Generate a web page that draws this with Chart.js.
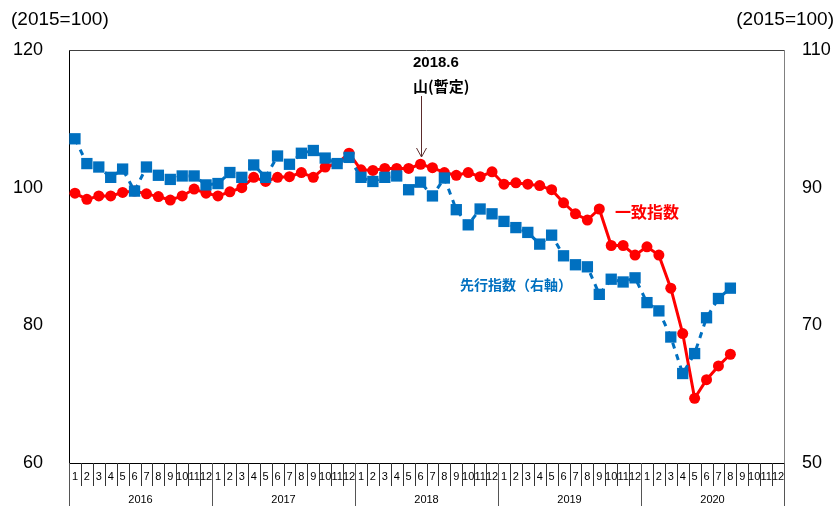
<!DOCTYPE html>
<html>
<head>
<meta charset="utf-8">
<script src="https://cdn.jsdelivr.net/npm/chart.js@4.4.1/dist/chart.umd.min.js"></script>
<style>
  html, body { margin: 0; padding: 0; background: #fff; }
</style>
</head>
<body>
<canvas id="ciChart" width="837" height="506"></canvas>
<script>
const ctx = document.getElementById('ciChart');

//Prepare data
var years = ['2016', '2017', '2018', '2019', '2020'];
var monthTicks = ['1', '2', '3', '4', '5', '6', '7', '8', '9', '10', '11', '12'];
var leftTicks = [60, 80, 100, 120];
var rightTicks = [50, 70, 90, 110];

// 一致指数 (left axis), 2016.1 - 2020.8
var coincident = [
    99.2, 98.3, 98.8, 98.8, 99.3, 99.5, 99.1, 98.7, 98.2, 98.8, 99.8, 99.2,
    98.8, 99.4, 100.0, 101.5, 100.9, 101.5, 101.6, 102.2, 101.5, 103.0, 103.5, 105.0,
    102.6, 102.5, 102.8, 102.8, 102.8, 103.4, 102.9, 102.2, 101.8, 102.2, 101.6, 102.3,
    100.5, 100.7, 100.5, 100.3, 99.7, 97.8, 96.2, 95.3, 96.9, 91.6, 91.6, 90.2,
    91.4, 90.2, 85.4, 78.8, 69.4, 72.1, 74.1, 75.8
];
// 先行指数 (right axis), 2016.1 - 2020.8
var leading = [
    97.1, 93.5, 93.0, 91.5, 92.7, 89.5, 93.0, 91.8, 91.2, 91.7, 91.7, 90.4,
    90.6, 92.2, 91.5, 93.3, 91.5, 94.6, 93.4, 95.0, 95.4, 94.3, 93.5, 94.4,
    91.5, 90.9, 91.5, 91.7, 89.7, 90.8, 88.8, 91.4, 86.8, 84.6, 86.9, 86.2,
    85.1, 84.2, 83.5, 81.8, 83.1, 80.1, 78.8, 78.5, 74.5, 76.7, 76.3, 76.9,
    73.3, 72.1, 68.3, 63.0, 65.9, 71.1, 73.9, 75.4
];

var labels = [];
years.forEach(function (y) {
    monthTicks.forEach(function (m) { labels.push(y + '.' + m); });
});

var numFont = '"Liberation Sans", Arial, sans-serif';
var jpFont = '"Noto Sans CJK JP", sans-serif';

//Month / year rows under the plot, frame top, annotations
const axisRows = {
    id: 'axisRows',
    afterDraw(chart) {
        const c = chart.ctx;
        const a = chart.chartArea;
        const x = chart.scales.x;
        const step = x.getPixelForValue(1) - x.getPixelForValue(0);
        c.save();
        c.lineWidth = 1;
        c.strokeStyle = '#404040';
        c.beginPath();
        c.moveTo(a.left, a.top + 0.5);
        c.lineTo(a.right, a.top + 0.5);
        c.stroke();

        c.font = '11px ' + numFont;
        c.fillStyle = '#000';
        c.textAlign = 'center';
        c.textBaseline = 'middle';
        labels.forEach(function (lab, i) {
            const cx = x.getPixelForValue(i);
            const b = Math.round(cx - step / 2) + 0.5;
            const yearStart = i % 12 === 0;
            c.strokeStyle = yearStart ? '#555' : '#333';
            c.beginPath();
            c.moveTo(b, a.bottom);
            c.lineTo(b, yearStart ? chart.height : a.bottom + 23);
            c.stroke();
            c.fillText(monthTicks[i % 12], cx, a.bottom + 14);
        });
        const endX = Math.round(x.getPixelForValue(labels.length - 1) + step / 2) + 0.5;
        c.strokeStyle = '#555';
        c.beginPath();
        c.moveTo(endX, a.bottom);
        c.lineTo(endX, chart.height);
        c.stroke();

        years.forEach(function (y, k) {
            const x0 = x.getPixelForValue(k * 12) - step / 2;
            const x1 = x.getPixelForValue(k * 12 + 11) + step / 2;
            c.fillText(y, (x0 + x1) / 2, a.bottom + 37);
        });

        // unit labels
        c.font = '19px ' + numFont;
        c.textAlign = 'left';
        c.fillText('(2015=100)', 11, 20);
        c.textAlign = 'right';
        c.fillText('(2015=100)', 834, 20);

        // peak annotation
        const px = Math.round(x.getPixelForValue(29)) + 0.5;
        c.textAlign = 'left';
        c.font = 'bold 15px ' + numFont;
        c.fillText('2018.6', 413, 63);
        c.font = 'bold 15px ' + jpFont;
        c.fillText('山(暫定)', 413, 86);
        c.strokeStyle = '#5B2C2C';
        c.beginPath();
        c.moveTo(px, 96);
        c.lineTo(px, 157);
        c.moveTo(px - 5, 148);
        c.lineTo(px, 157);
        c.lineTo(px + 5, 148);
        c.stroke();

        // series labels
        c.font = 'bold 16px ' + jpFont;
        c.fillStyle = '#FF0000';
        c.fillText('一致指数', 615, 212);
        c.font = 'bold 14px ' + jpFont;
        c.fillStyle = '#0070C0';
        c.fillText('先行指数（右軸）', 460, 285);
        c.restore();
    }
};

//Create chart
new Chart(ctx, {
    type: 'line',
    data: {
        labels: labels,
        datasets: [
            {
                label: '先行指数（右軸）',
                data: leading,
                yAxisID: 'y1',
                order: 1,
                borderColor: '#0070C0',
                backgroundColor: '#0070C0',
                borderWidth: 3,
                borderDash: [6, 6],
                pointStyle: 'rect',
                pointRadius: 8,
                pointBorderWidth: 0,
                tension: 0
            },
            {
                label: '一致指数',
                data: coincident,
                yAxisID: 'y',
                order: 2,
                borderColor: '#FF0000',
                backgroundColor: '#FF0000',
                borderWidth: 3,
                pointStyle: 'circle',
                pointRadius: 5.5,
                pointBorderWidth: 0,
                tension: 0
            }
        ]
    },
    options: {
        responsive: false,
        animation: false,
        layout: { padding: { top: 50 } },
        plugins: {
            legend: { display: false },
            tooltip: { enabled: false }
        },
        scales: {
            x: {
                offset: true,
                grid: { display: false },
                ticks: { display: false },
                border: { display: true, color: '#000', width: 1 },
                afterFit: function (s) { s.height = 43; }
            },
            y: {
                position: 'left',
                min: 60,
                max: 120,
                afterBuildTicks: function (s) { s.ticks = leftTicks.map(function (v) { return { value: v }; }); },
                grid: { drawOnChartArea: false, drawTicks: false },
                border: { display: true, color: '#000', width: 1 },
                ticks: { padding: 26, color: '#000', font: { size: 18, family: numFont } },
                afterFit: function (s) { s.width = 69; }
            },
            y1: {
                position: 'right',
                min: 50,
                max: 110,
                afterBuildTicks: function (s) { s.ticks = rightTicks.map(function (v) { return { value: v }; }); },
                grid: { drawOnChartArea: false, drawTicks: false },
                border: { display: true, color: '#808080', width: 1 },
                ticks: { padding: 18, color: '#000', font: { size: 18, family: numFont } },
                afterFit: function (s) { s.width = 53; }
            }
        }
    },
    plugins: [axisRows]
});
</script>
</body>
</html>
